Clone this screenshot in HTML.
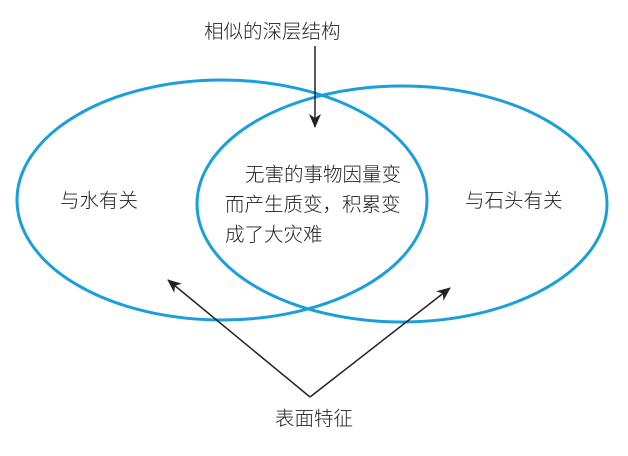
<!DOCTYPE html>
<html><head><meta charset="utf-8"><style>
body{margin:0;background:#fff;width:628px;height:451px;overflow:hidden}
svg text{font-family:"Liberation Sans","Noto Sans CJK SC",sans-serif;fill:#222;font-size:19.5px;font-weight:300}
</style></head><body>
<svg width="628" height="451" viewBox="0 0 628 451">
<defs><marker id="b" markerWidth="14" markerHeight="14" refX="13" refY="7" orient="auto" markerUnits="userSpaceOnUse"><path d="M0,1 L14,7 L0,13 L4,7 Z" fill="#222"/></marker></defs>
<ellipse cx="222" cy="200" rx="205" ry="120" fill="none" stroke="#1a9fdb" stroke-width="3"/>
<ellipse cx="402" cy="204" rx="205" ry="118" fill="none" stroke="#1a9fdb" stroke-width="3"/>
<text x="204" y="38">相似的深层结构</text>
<line x1="315" y1="46" x2="315" y2="127" stroke="#222" stroke-width="1.5" marker-end="url(#b)"/>
<text x="245" y="181">无害的事物因量变</text>
<text x="225" y="211">而产生质变，积累变</text>
<text x="225" y="241">成了大灾难</text>
<text x="60" y="207">与水有关</text>
<text x="465" y="207">与石头有关</text>
<text x="275" y="425">表面特征</text>
<line x1="310" y1="397" x2="168" y2="280" stroke="#222" stroke-width="1.5" marker-end="url(#b)"/>
<line x1="310" y1="397" x2="450" y2="288" stroke="#222" stroke-width="1.5" marker-end="url(#b)"/>
</svg>
</body></html>
